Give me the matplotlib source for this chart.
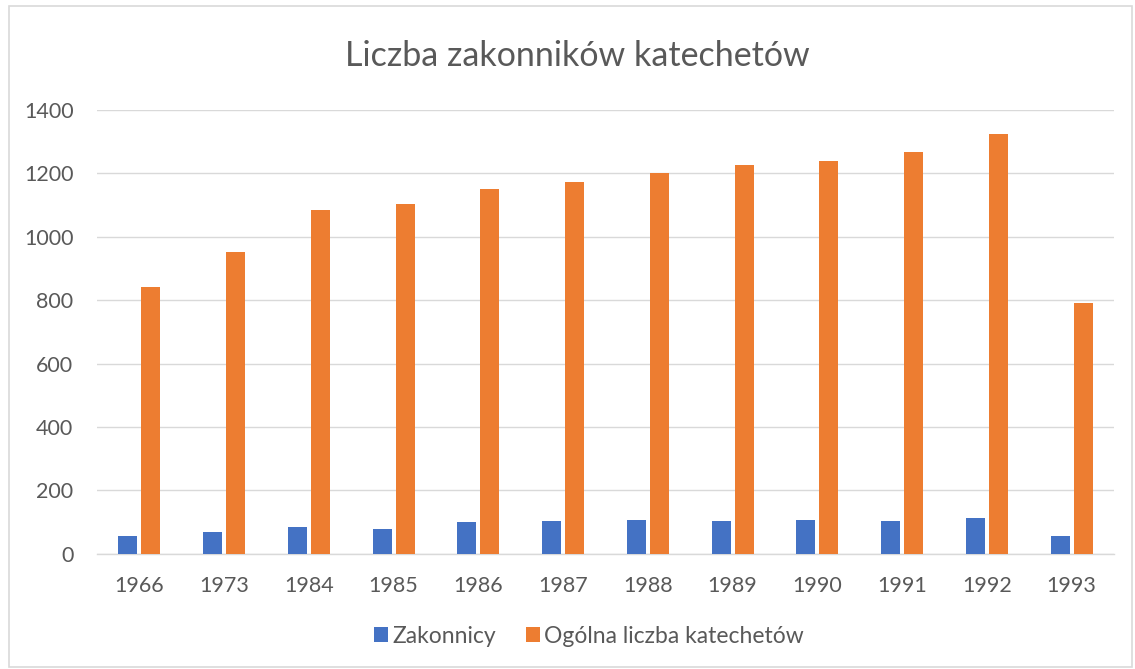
import matplotlib.pyplot as plt
import numpy as np
from matplotlib.patches import Rectangle

# dane
lata = ["1966", "1973", "1984", "1985", "1986", "1987",
        "1988", "1989", "1990", "1991", "1992", "1993"]
zakonnicy = [57, 70, 86, 80, 101, 104, 107, 103, 108, 105, 114, 55]
ogolna = [841, 953, 1085, 1104, 1149, 1171, 1200, 1227, 1237, 1268, 1325, 791]

plt.rcParams['font.family'] = ['Lato', 'DejaVu Sans']
szary = '#595959'
siatka = '#d9d9d9'

fig = plt.figure(figsize=(11.35, 6.69), dpi=100)
ax = fig.add_axes([0.0855, 0.172, 0.896, 0.664])

# ramka wokol calego wykresu
fig.patches.append(Rectangle((0.008, 0.003), 0.989, 0.988, transform=fig.transFigure,
                             fill=False, edgecolor=siatka, linewidth=1.2))

x = np.arange(len(lata))
w = 0.225
ax.bar(x - 0.136, zakonnicy, w, color='#4472c4', label='Zakonnicy', zorder=3)
ax.bar(x + 0.136, ogolna, w, color='#ed7d31', label='Ogólna liczba katechetów', zorder=3)

ax.set_xlim(-0.5, len(lata) - 0.5)
ax.set_ylim(0, 1400)
ax.set_yticks(range(0, 1401, 200))
ax.set_xticks(x)
ax.set_xticklabels(lata)
ax.grid(axis='y', color=siatka, linewidth=1, zorder=0)
for s in ['top', 'right', 'left']:
    ax.spines[s].set_visible(False)
ax.spines['bottom'].set_color(siatka)
ax.spines['bottom'].set_linewidth(1)
ax.tick_params(axis='both', length=0, labelsize=15.5, colors=szary)
ax.tick_params(axis='x', pad=16)
ax.tick_params(axis='y', pad=17)

fig.text(0.509, 0.917, "Liczba zakonników katechetów", ha='center', va='center',
         fontsize=24.5, color=szary)

ax.legend(loc='center', bbox_to_anchor=(0.484, -0.185), ncol=2, frameon=False,
          fontsize=16.5, handlelength=0.6, handleheight=0.6, handletextpad=0.2,
          columnspacing=1.3, labelcolor=szary)

plt.savefig("out.png", dpi=100)
